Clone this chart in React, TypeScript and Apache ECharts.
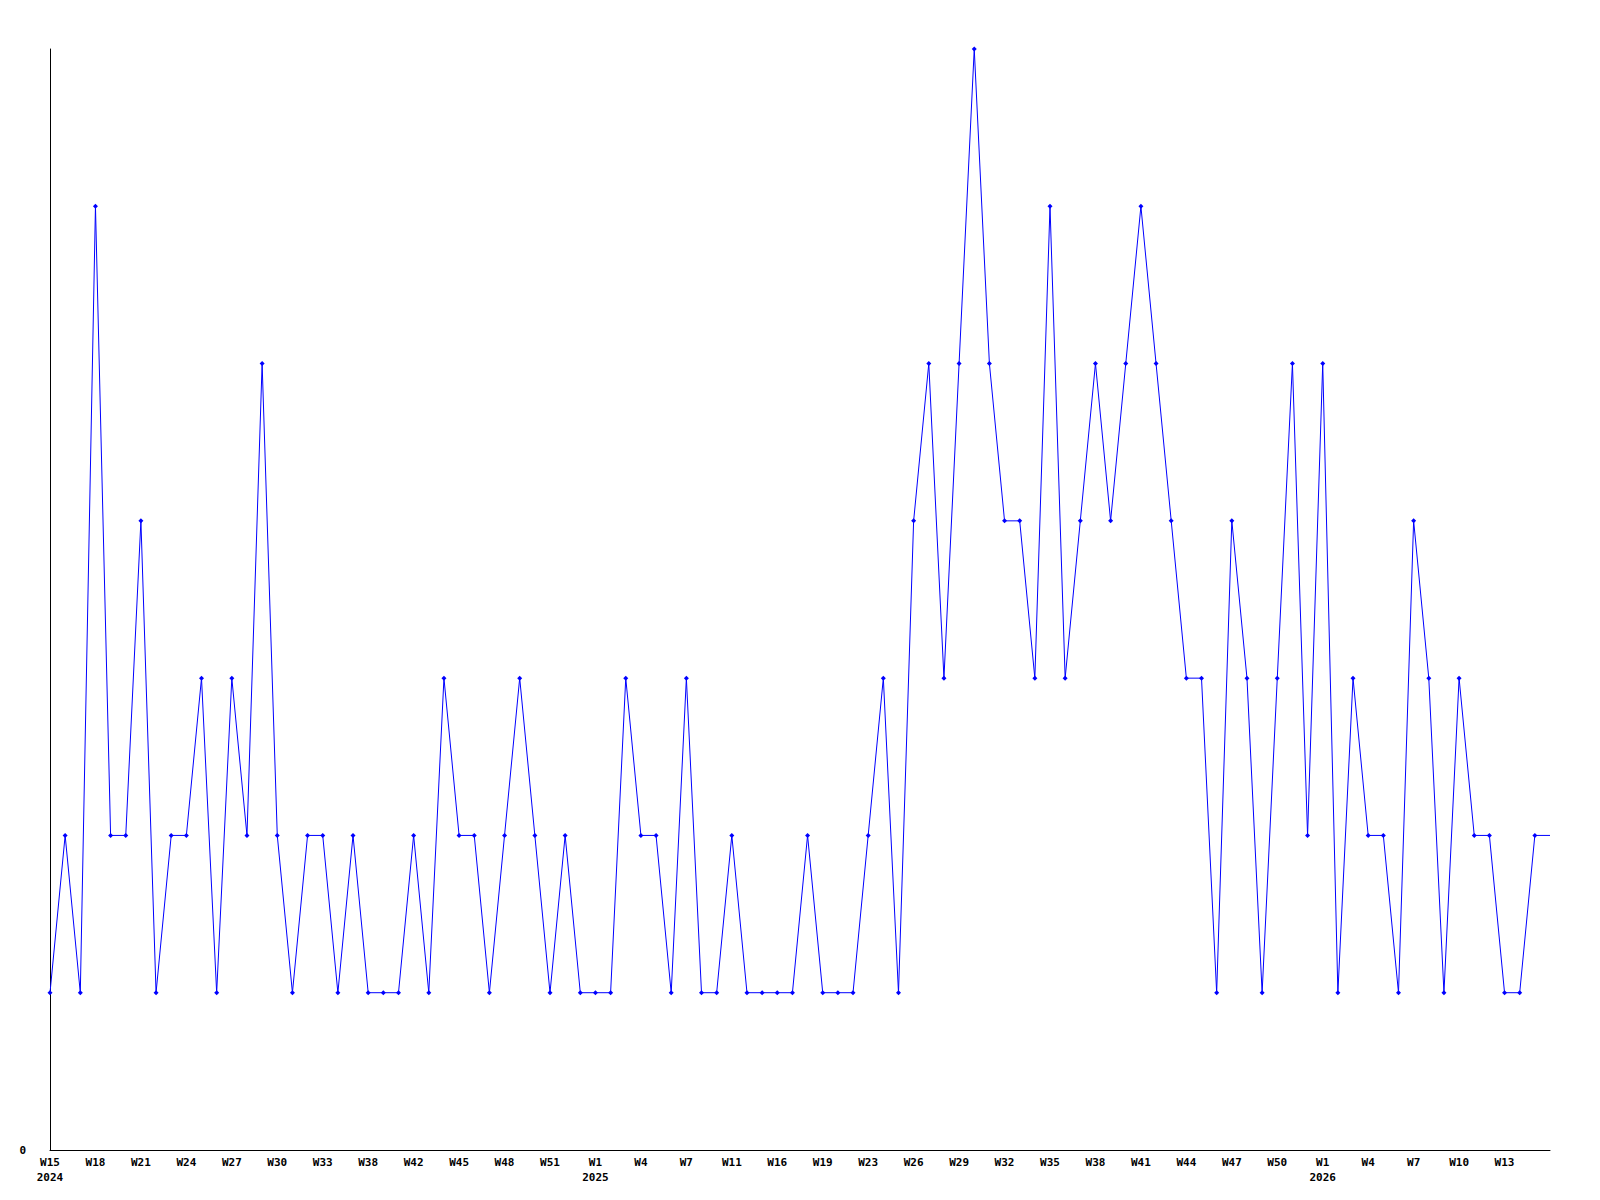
import React, { useEffect, useRef } from "react";
import * as echarts from "echarts";

const weeks: string[] = [
  "W15\n2024", "W16", "W17", "W18", "W19", "W20", "W21", "W22", "W23", "W24",
  "W25", "W26", "W27", "W28", "W29", "W30", "W31", "W32", "W33", "W35",
  "W36", "W38", "W39", "W40", "W42", "W43", "W44", "W45", "W46", "W47",
  "W48", "W49", "W50", "W51", "W52", "W53", "W1\n2025", "W2", "W3", "W4",
  "W5", "W6", "W7", "W8", "W9", "W11", "W13", "W14", "W16", "W17",
  "W18", "W19", "W20", "W22", "W23", "W24", "W25", "W26", "W27", "W28",
  "W29", "W30", "W31", "W32", "W33", "W34", "W35", "W36", "W37", "W38",
  "W39", "W40", "W41", "W42", "W43", "W44", "W45", "W46", "W47", "W48",
  "W49", "W50", "W51", "W52", "W1\n2026", "W2", "W3", "W4", "W5", "W6",
  "W7", "W8", "W9", "W10", "W11", "W12", "W13", "W14", "W15", "W16",
];

const counts: number[] = [
  1, 2, 1, 6, 2, 2, 4, 1, 2, 2,
  3, 1, 3, 2, 5, 2, 1, 2, 2, 1,
  2, 1, 1, 1, 2, 1, 3, 2, 2, 1,
  2, 3, 2, 1, 2, 1, 1, 1, 3, 2,
  2, 1, 3, 1, 1, 2, 1, 1, 1, 1,
  2, 1, 1, 1, 2, 3, 1, 4, 5, 3,
  5, 7, 5, 4, 4, 3, 6, 3, 4, 5,
  4, 5, 6, 5, 4, 3, 3, 1, 4, 3,
  1, 3, 5, 2, 5, 1, 3, 2, 2, 1,
  4, 3, 1, 3, 2, 2, 1, 1, 2, 2,
];

export default function App() {
  const ref = useRef<HTMLDivElement>(null);
  useEffect(() => {
    if (!ref.current) return;
    const chart = echarts.init(ref.current, undefined, { renderer: "svg" });
    const font = "'DejaVu Sans Mono', monospace";
    chart.setOption({
      animation: false,
      backgroundColor: "#ffffff",
      grid: { left: 50, right: 50, top: 49, bottom: 50, containLabel: false },
      xAxis: {
        type: "category",
        data: weeks,
        boundaryGap: false,
        axisLine: { show: true, lineStyle: { color: "#000000", width: 1 } },
        axisTick: { show: false },
        splitLine: { show: false },
        axisLabel: {
          interval: (index: number) => index % 3 === 0 && index < weeks.length - 1,
          margin: 5,
          color: "#000000",
          fontFamily: font,
          fontWeight: "bold",
          fontSize: 11,
          lineHeight: 15,
        },
      },
      yAxis: {
        type: "value",
        min: 0,
        max: 7,
        interval: 1,
        axisLine: { show: true, lineStyle: { color: "#000000", width: 1 } },
        axisTick: { show: false },
        splitLine: { show: false },
        axisLabel: {
          margin: 24,
          color: "#000000",
          fontFamily: font,
          fontWeight: "bold",
          fontSize: 11,
          formatter: (v: number) => (v === 0 ? "0" : ""),
        },
      },
      series: [
        {
          type: "line",
          data: counts.map((v, i) =>
            i === counts.length - 1 ? { value: v, symbol: "none" } : v
          ),
          symbol: "diamond",
          symbolSize: 5,
          showAllSymbol: true,
          itemStyle: { color: "#0000ff" },
          lineStyle: { color: "#0000ff", width: 1 },
        },
      ],
    });
    return () => chart.dispose();
  }, []);
  return (
    <div
      ref={ref}
      style={{ position: "fixed", left: 0, top: 0, width: 1600, height: 1200 }}
    />
  );
}
